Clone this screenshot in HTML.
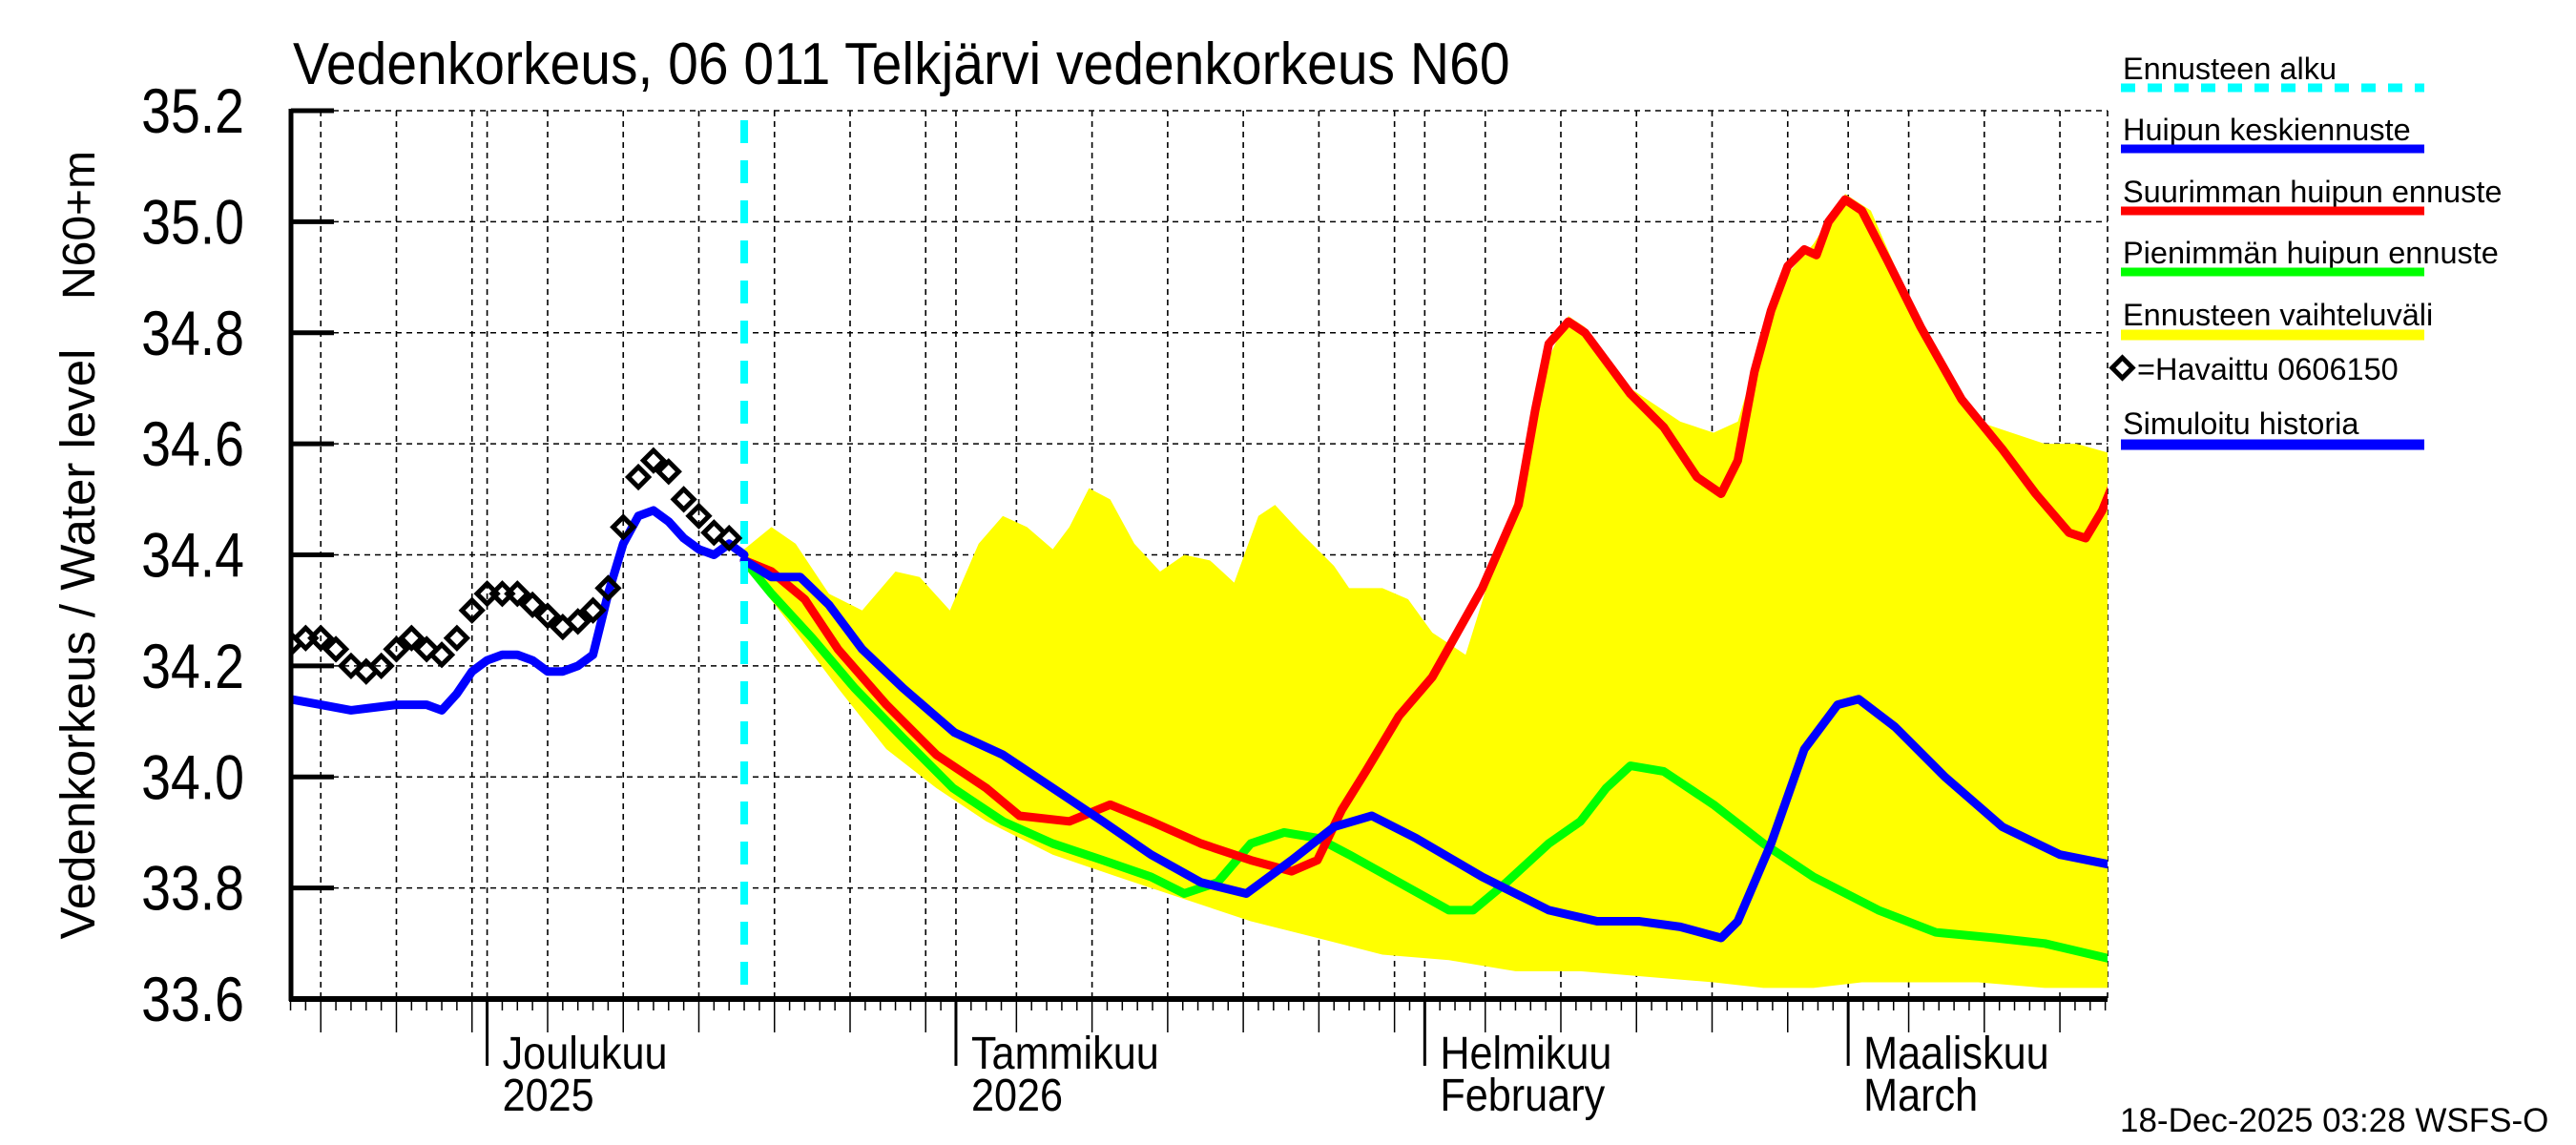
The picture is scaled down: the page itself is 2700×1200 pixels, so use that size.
<!DOCTYPE html>
<html><head><meta charset="utf-8"><style>
html,body{margin:0;padding:0;background:#fff;}
svg{display:block;}
text{font-family:"Liberation Sans",sans-serif;}
</style></head><body>
<svg id="chart" width="2700" height="1200" viewBox="0 0 2700 1200" xmlns="http://www.w3.org/2000/svg">
<defs><clipPath id="plotclip"><rect x="305" y="110" width="1904" height="937"/></clipPath></defs>
<text x="0" y="0" font-size="62" transform="translate(307,88) scale(0.92,1)">Vedenkorkeus, 06 011 Telkjärvi vedenkorkeus N60</text>
<text x="0" y="0" font-size="51" text-anchor="middle" transform="translate(99,675) rotate(-90)">Vedenkorkeus / Water level</text>
<text x="0" y="0" font-size="48" text-anchor="middle" transform="translate(99,236) rotate(-90)">N60+m</text>
<g id="grid"></g>
<g id="marks" clip-path="url(#plotclip)"></g>
<g id="axes"></g>
<g id="legend">
<text x="2225" y="83" font-size="32.5">Ennusteen alku</text>
<line x1="2223" y1="92" x2="2541" y2="92" stroke="#00ffff" stroke-width="9" stroke-dasharray="15,13"/>
<text x="2225" y="147" font-size="32.5">Huipun keskiennuste</text>
<line x1="2223" y1="156" x2="2541" y2="156" stroke="#0000ff" stroke-width="9"/>
<text x="2225" y="212" font-size="32.5">Suurimman huipun ennuste</text>
<line x1="2223" y1="221" x2="2541" y2="221" stroke="#ff0000" stroke-width="9"/>
<text x="2225" y="276" font-size="32.5">Pienimmän huipun ennuste</text>
<line x1="2223" y1="285" x2="2541" y2="285" stroke="#00ff00" stroke-width="9"/>
<text x="2225" y="341" font-size="32.5">Ennusteen vaihteluväli</text>
<line x1="2223" y1="351" x2="2541" y2="351" stroke="#ffff00" stroke-width="11"/>
<rect x="2217" y="378" width="15" height="15" fill="none" stroke="#000" stroke-width="5" transform="rotate(45 2224.5 385.5)"/>
<text x="2240" y="398" font-size="32.5">=Havaittu 0606150</text>
<text x="2225" y="455" font-size="32.5">Simuloitu historia</text>
<line x1="2223" y1="466" x2="2541" y2="466" stroke="#0000ff" stroke-width="11"/>
</g>
<text x="2222" y="1186" font-size="35">18-Dec-2025 03:28 WSFS-O</text>
</svg>
<script>
// days relative to 1 Dec 2025
const yTicks = [33.6, 33.8, 34.0, 34.2, 34.4, 34.6, 34.8, 35.0, 35.2];
const monthDays = [0, 31, 62, 90];
const monthNames = ["Joulukuu", "Tammikuu", "Helmikuu", "Maaliskuu"];
const monthSub = ["2025", "2026", "February", "March"];
const forecastStartDay = 17;
const obsDays = [-13,-12,-11,-10,-9,-8,-7,-6,-5,-4,-3,-2,-1,0,1,2,3,4,5,6,7,8,9,10,11,12,13,14,15,16];
const obsVals = [34.24,34.25,34.25,34.23,34.20,34.19,34.20,34.23,34.25,34.23,34.22,34.25,34.30,34.33,34.33,34.33,34.31,34.29,34.27,34.28,34.30,34.34,34.45,34.54,34.57,34.55,34.50,34.47,34.44,34.43];
const histDays = [-13,-11,-9,-6,-4,-3,-2,-1,0,1,2,3,4,5,6,7,8,9,10,11,12,13,14,15,16,17];
const histVals = [34.14,34.13,34.12,34.13,34.13,34.12,34.15,34.19,34.21,34.22,34.22,34.21,34.19,34.19,34.20,34.22,34.33,34.42,34.47,34.48,34.46,34.43,34.41,34.40,34.42,34.40];
const medDays = [17,18.8,20.7,22.6,24.8,27.5,30.9,34.1,37.4,40.7,43.9,47.2,50.2,53.2,56,58.5,61.4,65.8,70.2,73.4,76.2,78.9,81.6,82.7,84.9,87.1,89.3,90.7,93.1,96.4,100.2,104,107.7];
const medVals = [34.39,34.36,34.36,34.31,34.23,34.16,34.08,34.04,33.98,33.92,33.86,33.81,33.79,33.85,33.91,33.93,33.89,33.82,33.76,33.74,33.74,33.73,33.71,33.74,33.88,34.05,34.13,34.14,34.09,34.00,33.91,33.86,33.84];
const maxDays = [17,18.8,21,23.2,26.4,29.7,33,35.2,38.5,41.2,43.9,47.2,50.5,53.2,54.9,56.5,58.1,60.3,62.5,65.8,68.2,69.3,70.2,71.5,72.6,75.6,77.8,80,81.6,82.7,83.8,84.9,86,87.1,87.9,88.7,89.8,90.9,92.6,94.8,97.5,100.2,102.4,104.6,105.7,106.8,107.7];
const maxVals = [34.39,34.37,34.32,34.23,34.13,34.04,33.98,33.93,33.92,33.95,33.92,33.88,33.85,33.83,33.85,33.94,34.01,34.11,34.18,34.34,34.49,34.66,34.78,34.82,34.80,34.69,34.63,34.54,34.51,34.57,34.73,34.84,34.92,34.95,34.94,35.00,35.04,35.02,34.93,34.81,34.68,34.59,34.51,34.44,34.43,34.48,34.54];
const minDays = [17,18.8,21.5,24.3,27.5,30.8,34.1,37.4,40.7,43.9,46.1,48.3,50.5,52.7,54.9,57,60.3,63.6,65.2,67.4,70.2,72.3,74,75.6,77.8,81.1,84.4,87.7,92,95.8,99.7,103,107.7];
const minVals = [34.39,34.33,34.25,34.16,34.07,33.98,33.92,33.88,33.85,33.82,33.79,33.81,33.88,33.90,33.89,33.86,33.81,33.76,33.76,33.81,33.88,33.92,33.98,34.02,34.01,33.95,33.88,33.82,33.76,33.72,33.71,33.70,33.67];
const upDays = [17,18.8,20.4,22.6,24.8,27,28.6,30.6,32.5,34.1,35.7,37.4,38.5,39.8,41.2,42.8,44.5,46.1,47.8,49.4,51,52.1,53.8,56,57,59.2,60.9,62.5,64.7,66.3,68,69.6,71.5,72.6,74.5,76.7,78.9,81.1,82.7,83.8,85.5,87.7,89.8,91.5,94.2,96.4,98.6,100.8,103,105.1,107.7];
const upVals = [34.41,34.45,34.42,34.33,34.30,34.37,34.36,34.30,34.42,34.47,34.45,34.41,34.45,34.52,34.50,34.42,34.37,34.40,34.39,34.35,34.47,34.49,34.44,34.38,34.34,34.34,34.32,34.26,34.22,34.36,34.50,34.72,34.83,34.81,34.72,34.68,34.64,34.62,34.64,34.74,34.89,34.96,35.05,35.02,34.85,34.73,34.64,34.62,34.60,34.60,34.58];
const loDays = [17,19.9,23.2,26.4,29.7,33,37.4,41.7,46.1,50.5,54.9,59.2,63.6,68,72.3,76.7,81.1,84.4,87.7,90.9,94.2,98.6,103,107.7];
const loVals = [34.38,34.28,34.16,34.05,33.98,33.92,33.86,33.82,33.78,33.74,33.71,33.68,33.67,33.65,33.65,33.64,33.63,33.62,33.62,33.63,33.63,33.63,33.62,33.62];

const X0=305, X1=2209, Y0=1047, Y1=116, DMIN=-12.97, DMAX=107.15;
const xs = d => X0 + (d - DMIN) / (DMAX - DMIN) * (X1 - X0);
const ys = v => Y0 - (v - 33.6) / 1.6 * (Y0 - Y1);
const NS="http://www.w3.org/2000/svg";
function mk(tag, attrs, parent){const e=document.createElementNS(NS,tag);for(const k in attrs)e.setAttribute(k,attrs[k]);parent.appendChild(e);return e;}
const grid=document.getElementById('grid'), marks=document.getElementById('marks'), axes=document.getElementById('axes');

yTicks.forEach(v=>{
  const l=mk('line',{x1:X0,x2:X1,y1:ys(v),y2:ys(v),stroke:'#000','stroke-width':1.6,'stroke-dasharray':'6,5'},grid);
  
  
  const t=mk('line',{x1:X0,x2:X0+45,y1:ys(v),y2:ys(v),stroke:'#000','stroke-width':5},axes);
  
  
  const tx=mk('text',{x:0,y:0,'font-size':66,'text-anchor':'end',transform:`translate(256,${ys(v)+23}) scale(0.84,1)`},axes);
  tx.textContent=v.toFixed(1);
  
  
});
const mlen=[31,31,28,31];
const allDays=[];
for(let m=-1;m<4;m++){
  const start = m<0 ? -30 : monthDays[m];
  const len = m<0 ? 30 : mlen[m];
  for(let dd=1; dd<=len; dd++){ allDays.push({d:start+dd-1, dom:dd}); }
}
allDays.forEach(o=>{
  const x=xs(o.d);
  if(x<X0-1||x>X1+1) return;
  const isMonth=o.dom===1, isFive=o.dom%5===0;
  let len=12;
  if(isFive) len=35;
  if(isMonth) len=70;
  const t=mk('line',{x1:x,x2:x,y1:Y0,y2:Y0+len,stroke:'#000','stroke-width':isMonth?3:1.5},axes);
  
  
  if(isMonth||isFive){
    const g=mk('line',{x1:x,x2:x,y1:Y1,y2:Y0,stroke:'#000','stroke-width':1.6,'stroke-dasharray':'6,5'},grid);
    
    
  }
});
{const g=mk('line',{x1:X1,x2:X1,y1:Y1,y2:Y0,stroke:'#000','stroke-width':1.6,'stroke-dasharray':'6,5'},grid);

}
monthDays.forEach((d,i)=>{
  const x=xs(d)+16;
  const a=mk('text',{x:0,y:0,'font-size':48,transform:`translate(${x},1120) scale(0.9,1)`},axes);
  a.textContent=monthNames[i];
  
  
  const b=mk('text',{x:0,y:0,'font-size':48,transform:`translate(${x},1164) scale(0.9,1)`},axes);
  b.textContent=monthSub[i];
  
  
});
{const a=mk('line',{x1:X0,x2:X0,y1:Y1-2,y2:Y0+2,stroke:'#000','stroke-width':5},axes);


const b=mk('line',{x1:X0-2,x2:X1,y1:Y0,y2:Y0,stroke:'#000','stroke-width':6},axes);

}

let pts=upDays.map((d,i)=>xs(d)+','+ys(upVals[i]));
for(let i=loDays.length-1;i>=0;i--) pts.push(xs(loDays[i])+','+ys(loVals[i]));
const band=mk('polygon',{points:pts.join(' '),fill:'#ffff00',stroke:'none'},marks);



function line(days,vals,color,name){
  const p=mk('polyline',{points:days.map((d,i)=>xs(d)+','+ys(vals[i])).join(' '),fill:'none',stroke:color,'stroke-width':9,'stroke-linejoin':'round','stroke-linecap':'round'},marks);
  
  
}
line(minDays,minVals,'#00ff00','min-peak-forecast-line');
line(maxDays,maxVals,'#ff0000','max-peak-forecast-line');
line(histDays,histVals,'#0000ff','simulated-history-line');
line(medDays,medVals,'#0000ff','median-forecast-line');

{const f=mk('line',{x1:xs(forecastStartDay),x2:xs(forecastStartDay),y1:Y1+10,y2:Y0,stroke:'#00ffff','stroke-width':8,'stroke-dasharray':'24,18'},marks);

}

obsDays.forEach((d,i)=>{
  const cx=xs(d), cy=ys(obsVals[i]);
  const r=mk('rect',{x:cx-7.5,y:cy-7.5,width:15,height:15,fill:'none',stroke:'#000','stroke-width':5,transform:`rotate(45 ${cx} ${cy})`},marks);
  
  
});
</script>
</body></html>
